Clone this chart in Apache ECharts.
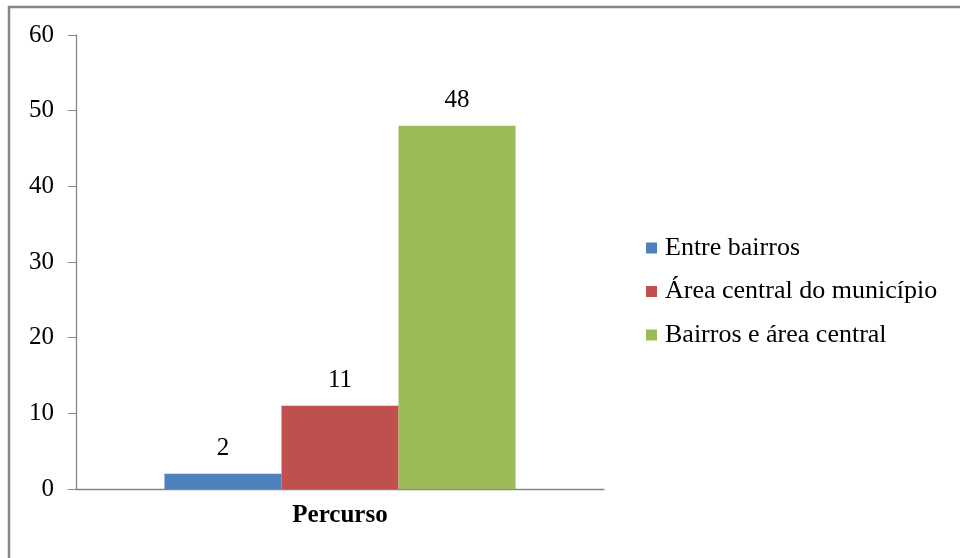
<!DOCTYPE html>
<html><head><meta charset="utf-8">
<script src="https://cdn.jsdelivr.net/npm/echarts@6/dist/echarts.min.js"></script>
<style>html,body{margin:0;padding:0;background:#fff}#c{width:960px;height:558px}</style>
</head><body><div id="c"></div>
<script>
const categories = ['Percurso'];
const seriesNames = ['Entre bairros', 'Área central do município', 'Bairros e área central'];
const entreBairros = [2];
const areaCentral = [11];
const bairrosEArea = [48];
const yTicks = [0, 10, 20, 30, 40, 50, 60];

const colors = ['#4F81BD', '#C0504D', '#9BBB59'];
const values = [entreBairros, areaCentral, bairrosEArea];
const font = 'Liberation Serif';

const chart = echarts.init(document.getElementById('c'), null, {renderer: 'canvas'});
chart.setOption({
  animation: false,
  backgroundColor: '#fff',
  textStyle: {fontFamily: font},
  graphic: [{
    type: 'rect', shape: {x: 9, y: 7, width: 970, height: 570},
    style: {fill: 'none', stroke: '#868686', lineWidth: 2.5}, silent: true
  }],
  grid: {left: 76, right: 356, top: 35, bottom: 69},
  legend: {
    orient: 'vertical', left: 641, top: 230,
    itemWidth: 11, itemHeight: 11, itemGap: 17.5,
    icon: 'rect',
    textStyle: {fontFamily: font, fontSize: 26, color: '#000', lineHeight: 25, padding: [0, 0, 0, 3]},
    data: seriesNames
  },
  xAxis: {
    type: 'category', data: categories,
    axisLine: {lineStyle: {color: '#868686', width: 1.3}},
    axisTick: {show: false},
    axisLabel: {fontFamily: font, fontSize: 25, fontWeight: 'bold', color: '#000', margin: 14}
  },
  yAxis: {
    type: 'value', min: yTicks[0], max: yTicks[yTicks.length - 1], interval: 10,
    axisLine: {show: true, lineStyle: {color: '#868686', width: 1.3}},
    axisTick: {show: true, length: 8, lineStyle: {color: '#868686'}},
    splitLine: {show: false},
    axisLabel: {fontFamily: font, fontSize: 25, color: '#000', margin: 22}
  },
  series: seriesNames.map((n, i) => ({
    name: n, type: 'bar', data: values[i],
    barGap: '0%', barCategoryGap: '33.5%',
    itemStyle: {color: colors[i]},
    label: {show: true, position: 'top', distance: 13, fontFamily: font, fontSize: 25, color: '#000'}
  }))
});
</script></body></html>
